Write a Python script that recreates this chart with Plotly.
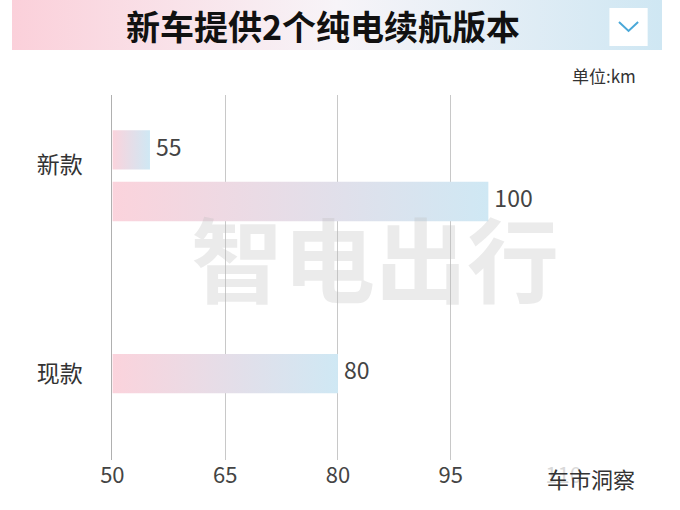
import plotly.graph_objects as go

categories = ["新款", "现款"]
bar_labels = ["新款-1", "新款-2", "现款"]
bar_values = [55, 100, 80]
bar_pos = [1.0, 2.0, 5.33]
cat_pos = [1.3, 5.33]
x_ticks = [50, 65, 80, 95, 110]

W, H = 680, 510
fig = go.Figure()
hh = 0.38
for v, p in zip(bar_values, bar_pos):
    fig.add_trace(go.Scatter(
        x=[50, v, v, 50, 50], y=[p-hh, p-hh, p+hh, p+hh, p-hh],
        mode="lines", line=dict(width=0), fill="toself",
        fillgradient=dict(type="horizontal", colorscale=[[0, "#fbd3dc"], [1, "#cfe8f4"]]),
        hoverinfo="skip", showlegend=False))
fig.add_trace(go.Scatter(x=[v + 0.8 for v in bar_values], y=bar_pos, mode="text",
    text=[str(v) for v in bar_values], textposition="middle right",
    textfont=dict(size=23, color="#444", family="Noto Sans CJK SC"), showlegend=False))

# title banner
fig.add_trace(go.Scatter(x=[0, 1, 1, 0, 0], y=[0, 0, 1, 1, 0], xaxis="x2", yaxis="y2",
    mode="lines", line=dict(width=0), fill="toself",
    fillgradient=dict(type="horizontal", colorscale=[[0, "#fbd0da"], [0.5, "#f7f4f8"], [1, "#cfe7f3"]]),
    hoverinfo="skip", showlegend=False))

fig.update_layout(
    width=W, height=H, margin=dict(l=0, r=0, t=0, b=0),
    paper_bgcolor="white", plot_bgcolor="white",
    xaxis=dict(domain=[105/W, 577/W], range=[50, 110], tickvals=x_ticks,
               showgrid=True, gridcolor="#c8c8c8", gridwidth=1, zeroline=False,
               showline=False, ticks="", tickfont=dict(size=22, color="#444", family="Noto Sans CJK SC")),
    yaxis=dict(domain=[1-460/H, 1-95/H], range=[7, -0.06], tickvals=cat_pos, ticktext=categories,
               showgrid=False, zeroline=False, showline=True, linecolor="#b0b0b0",
               ticks="", ticklabelstandoff=24,
               tickfont=dict(size=23, color="#333", family="Noto Sans CJK SC")),
    xaxis2=dict(domain=[0, 1], range=[0, 1], visible=False, fixedrange=True),
    yaxis2=dict(domain=[1-50/H, 1], range=[0, 1], visible=False, fixedrange=True),
    font=dict(family="Noto Sans CJK SC"),
)
fig.update_layout(
    annotations=[
        dict(text="<b>新车提供2个纯电续航版本</b>", x=0.478, y=1-25/H, xref="paper", yref="paper",
             xanchor="center", yanchor="middle",
             showarrow=False, font=dict(size=34, color="#111")),
        dict(text="单位:km", x=655/W, y=1-75/H, xref="paper", yref="paper",
             xanchor="right", yanchor="middle",
             showarrow=False, font=dict(size=17, color="#333")),
        dict(text="<b>智电出行</b>", x=380/W, y=1-255/H, xref="paper", yref="paper",
             xanchor="center", yanchor="middle",
             showarrow=False, font=dict(size=92, color="rgba(190,190,190,0.3)")),
        dict(text="车市洞察", x=606/W, y=1-478/H, xref="paper", yref="paper",
             xanchor="center", yanchor="middle",
             showarrow=False, bgcolor="rgba(255,255,255,0.8)",
             font=dict(size=22, color="#333")),
    ],
    shapes=[
        dict(type="rect", xref="paper", yref="paper", x0=625/W, x1=665/W, y0=1-46/H, y1=1-8/H,
             fillcolor="white", line=dict(width=0)),
        dict(type="path", xref="paper", yref="paper",
             path=f"M {635/W} {1-22/H} L {645/W} {1-31/H} L {655/W} {1-22/H}",
             line=dict(color="#4aa8d8", width=2)),
    ],
)
fig.write_html("out.html", config={"displayModeBar": False},
    post_script="document.documentElement.style.overflow='hidden';document.body.style.margin='0';"
                "document.body.style.overflow='hidden';document.body.style.height='510px';")
